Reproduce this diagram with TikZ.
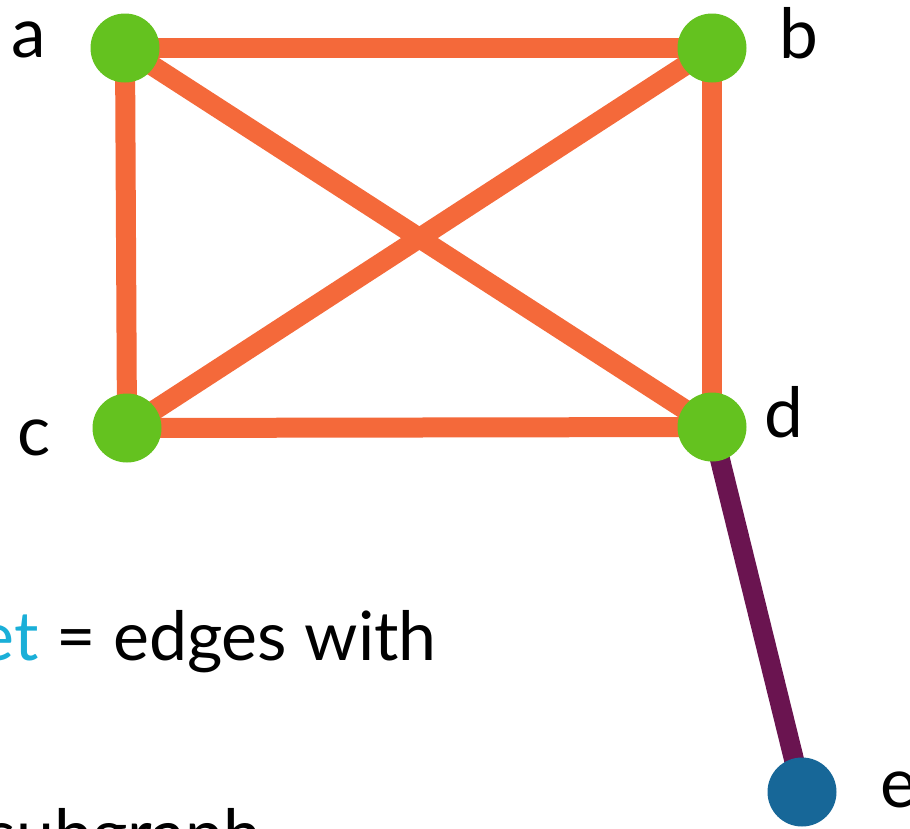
\documentclass[tikz,border=0pt]{standalone}
\usepackage{fontspec}
\setmainfont{Lato}
\definecolor{edgeor}{RGB}{244,105,58}
\definecolor{nodegr}{RGB}{100,194,31}
\definecolor{edgepu}{RGB}{106,20,80}
\definecolor{nodebl}{RGB}{23,103,152}
\definecolor{txtcy}{RGB}{26,175,216}
\begin{document}
\begin{tikzpicture}[x=0.75pt,y=-0.75pt,
  vtx/.style={circle,minimum size=69*0.75pt,inner sep=0pt,fill=nodegr},
  vtxb/.style={vtx,fill=nodebl},
  oedge/.style={draw=edgeor,line width=20*0.75pt},
  pedge/.style={draw=edgepu,line width=20*0.75pt},
  lbl/.style={font=\fontsize{52}{60}\selectfont,inner sep=0pt,anchor=base},
  body/.style={font=\fontsize{51}{60}\selectfont,inner sep=0pt}]
\useasboundingbox (0,0) rectangle (910,828);
\coordinate (pa) at (125,48);
\coordinate (pb) at (712,48);
\coordinate (pc) at (127,428);
\coordinate (pd) at (712,427);
\coordinate (pe) at (802,792);
\draw[oedge] (pa) -- (pb);
\draw[oedge] (pa) -- (pc);
\draw[oedge] (pa) -- (pd);
\draw[oedge] (pb) -- (pc);
\draw[oedge] (pb) -- (pd);
\draw[oedge] (pc) -- (pd);
\draw[pedge] (pd) -- (pe);
\node[vtx] (a) at (pa) {};
\node[vtx] (b) at (pb) {};
\node[vtx] (c) at (pc) {};
\node[vtx] (d) at (pd) {};
\node[vtxb] (e) at (pe) {};
\node[lbl] (la) at (29,57) {a};
\node[lbl] (lb) at (799,58) {b};
\node[lbl] (lc) at (34,455) {c};
\node[lbl] (ld) at (784,437) {d};
\node[lbl,anchor=base west] (le) at (880,807) {e};
\node[body,anchor=base east] (t1) at (437,660) {{\color{txtcy}et} = edges with};
\node[body,anchor=base east] (t2) at (262,858) {subgraph};
\end{tikzpicture}
\end{document}
